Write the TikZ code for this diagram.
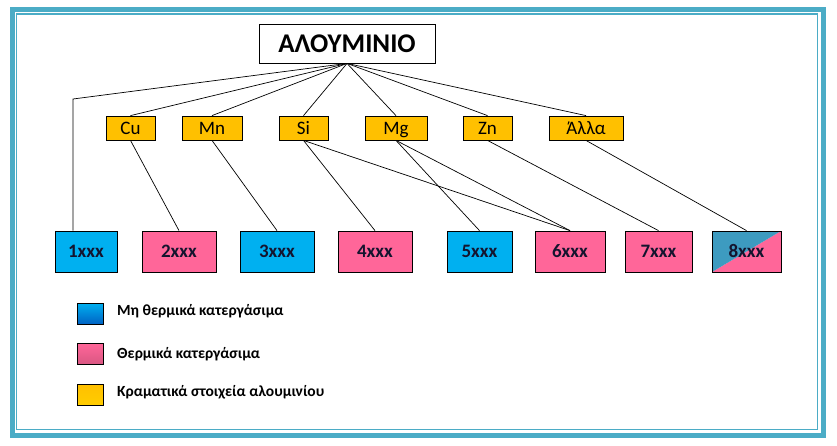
\documentclass[tikz,border=0pt]{standalone}
\usepackage{fontspec}
\setmainfont{Carlito}
\definecolor{framecol}{HTML}{4BACC6}
\definecolor{nonheat}{HTML}{00B0F0}
\definecolor{heat}{HTML}{FF6699}
\definecolor{alloy}{HTML}{FFC000}
\definecolor{mixed}{HTML}{3D9BC0}
\definecolor{labelcol}{HTML}{14142E}
\tikzset{
  elem/.style={draw, fill=alloy, minimum height=24pt, inner sep=0pt, line width=0.8pt,
    text height=13pt, text depth=1pt, font=\fontsize{19}{21}\selectfont},
  series/.style={draw, minimum height=41pt, inner sep=0pt, line width=0.8pt, text=labelcol,
    font=\bfseries\fontsize{19}{21}\selectfont},
  legbox/.style={draw, minimum width=26pt, minimum height=21pt, inner sep=0pt, line width=0.8pt},
  legtext/.style={anchor=west, inner sep=0pt, font=\bfseries\fontsize{15.5}{17}\selectfont},
  link/.style={line width=0.7pt},
}
\begin{document}
\begin{tikzpicture}[x=1pt,y=-1pt]
\useasboundingbox (0,0) rectangle (837,445);
% frame
\draw[framecol,line width=5pt] (12.5,9.5) rectangle (823,435.5);
\draw[framecol,line width=1.3pt] (16.5,14) rectangle (817.5,429.5);
% title
\node[draw,line width=0.8pt,minimum width=176pt,minimum height=39pt,inner sep=0pt,
  font=\bfseries\fontsize{27}{29}\selectfont] (title) at (347,43.5) {ΑΛΟΥΜΙΝΙΟ};
% alloying elements
\node[elem,minimum width=49pt] (cu) at (130.5,128) {Cu};
\node[elem,minimum width=60pt] (mn) at (212,128) {Mn};
\node[elem,minimum width=49pt] (si) at (303.5,128) {Si};
\node[elem,minimum width=62pt] (mg) at (396,128) {Mg};
\node[elem,minimum width=49pt] (zn) at (487.5,128) {Zn};
\node[elem,minimum width=74pt] (alla) at (586,128) {Άλλα};
% series
\node[series,fill=nonheat,minimum width=62pt] (s1) at (86,251.5) {1xxx};
\node[series,fill=heat,minimum width=74pt] (s2) at (179,251.5) {2xxx};
\node[series,fill=nonheat,minimum width=74pt] (s3) at (277,251.5) {3xxx};
\node[series,fill=heat,minimum width=74pt] (s4) at (375,251.5) {4xxx};
\node[series,fill=nonheat,minimum width=65pt] (s5) at (479.5,251.5) {5xxx};
\node[series,fill=heat,minimum width=70pt] (s6) at (570,251.5) {6xxx};
\node[series,fill=heat,minimum width=67pt] (s7) at (658.5,251.5) {7xxx};
\node[series,minimum width=69pt,path picture={
    \fill[heat] (path picture bounding box.south west) -- (path picture bounding box.south east)
      -- (path picture bounding box.north east) -- cycle;
    \fill[mixed] (path picture bounding box.south west) -- (path picture bounding box.north west)
      -- (path picture bounding box.north east) -- cycle;}] (s8) at (746.5,251.5) {8xxx};
% links
\coordinate (c1) at (73,99);
\draw[link] (title.south) -- (c1) -- (c1 |- s1.north);
\foreach \e in {cu,mn,si,mg,zn,alla}
  \draw[link] (title.south) -- (\e.north);
\draw[link] (cu.south) -- (s2.north);
\draw[link] (mn.south) -- (s3.north);
\draw[link] (si.south) -- (s4.north);
\draw[link] (si.south) -- (s6.north);
\draw[link] (mg.south) -- (s5.north);
\draw[link] (mg.south) -- (s6.north);
\draw[link] (zn.south) -- (s7.north);
\draw[link] (alla.south) -- (s8.north);
% legend
\node[legbox,top color=nonheat,bottom color=nonheat!70!blue!80!black] (l1) at (90,313.5) {};
\node[legbox,top color=heat,bottom color=heat!85!black] (l2) at (90,354) {};
\node[legbox,top color=alloy,bottom color=alloy!80!yellow] (l3) at (90,395) {};
\node[legtext] (t1) at (117,311) {Μη θερμικά κατεργάσιμα};
\node[legtext] (t2) at (117,354) {Θερμικά κατεργάσιμα};
\node[legtext] (t3) at (117,392) {Κραματικά στοιχεία αλουμινίου};
\end{tikzpicture}
\end{document}
